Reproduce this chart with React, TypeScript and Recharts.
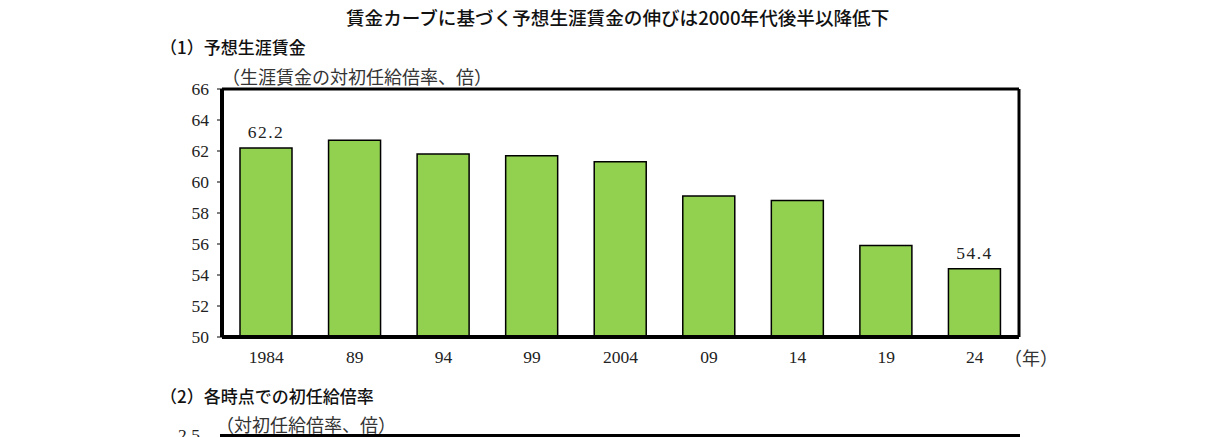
import React from "react"
import { BarChart, Bar, XAxis, YAxis, LabelList } from "recharts"

const years = ["1984", "89", "94", "99", "2004", "09", "14", "19", "24"]
const lifetimeRatio = [62.2, 62.7, 61.8, 61.7, 61.3, 59.1, 58.8, 55.9, 54.4]
const labeledYears = ["1984", "24"]
const yTicks = [50, 52, 54, 56, 58, 60, 62, 64, 66]

const data = years.map((year, i) => ({
  year,
  value: lifetimeRatio[i],
  label: labeledYears.includes(year) ? lifetimeRatio[i].toFixed(1) : undefined,
}))

const serif = '"Liberation Serif", "DejaVu Serif", serif'
const gothic = '"Noto Sans CJK JP", "Noto Sans", sans-serif'

const text = (left: number, top: number, size: number, extra: React.CSSProperties = {}) => ({
  position: "absolute" as const,
  left,
  top,
  fontSize: size,
  lineHeight: 1,
  whiteSpace: "nowrap" as const,
  color: "#111",
  ...extra,
})

export default function App() {
  return (
    <div style={{ position: "absolute", left: 0, top: 0, width: 1213, height: 437, overflow: "hidden", background: "#fff" }}>
      <div style={text(346, 8, 18.6, { fontFamily: gothic, fontWeight: 500 })}>
        賃金カーブに基づく予想生涯賃金の伸びは2000年代後半以降低下
      </div>
      <div style={text(160, 38, 17, { fontFamily: gothic, fontWeight: 500 })}>（1）予想生涯賃金</div>
      <div style={text(222, 67, 18, { fontFamily: gothic, color: "#333" })}>（生涯賃金の対初任給倍率、倍）</div>

      <div style={{ position: "absolute", left: 0, top: 0 }}>
        <BarChart
          width={1213}
          height={437}
          data={data}
          margin={{ top: 88, right: 193, bottom: 70, left: 162 }}
        >
          <XAxis
            dataKey="year"
            height={30}
            interval={0}
            tickLine={false}
            axisLine={{ stroke: "#000", strokeWidth: 4 }}
            tick={{ fill: "#222", fontSize: 17.5, fontFamily: serif }}
            tickMargin={8}
          />
          <XAxis
            xAxisId="top"
            orientation="top"
            dataKey="year"
            height={1}
            tick={false}
            tickLine={false}
            axisLine={{ stroke: "#000", strokeWidth: 3 }}
          />
          <YAxis
            domain={[50, 66]}
            ticks={yTicks}
            interval={0}
            width={60}
            tickSize={5}
            tickMargin={8}
            tickLine={{ stroke: "#000" }}
            axisLine={{ stroke: "#000", strokeWidth: 4 }}
            tick={{ fill: "#222", fontSize: 17.5, fontFamily: serif }}
          />
          <YAxis
            yAxisId="right"
            orientation="right"
            domain={[50, 66]}
            width={1}
            tick={false}
            tickLine={false}
            axisLine={{ stroke: "#000", strokeWidth: 3 }}
          />
          <Bar
            dataKey="value"
            fill="#92D050"
            stroke="#000"
            strokeWidth={1.5}
            barSize={52}
            isAnimationActive={false}
          >
            <LabelList
              dataKey="label"
              position="top"
              offset={10}
              fill="#222"
              fontSize={17.5}
              fontFamily={serif}
              letterSpacing={1.5}
            />
          </Bar>
        </BarChart>
      </div>

      <div style={text(1004, 348, 18, { fontFamily: gothic, color: "#333" })}>（年）</div>

      <div style={text(160, 387, 17, { fontFamily: gothic, fontWeight: 500 })}>（2）各時点での初任給倍率</div>
      <div style={text(216, 415, 18, { fontFamily: gothic, color: "#333" })}>（対初任給倍率、倍）</div>
      <div style={text(178, 427, 17.5, { fontFamily: serif, color: "#222" })}>2.5</div>
      <div style={{ position: "absolute", left: 220, top: 434, width: 800, height: 4, background: "#000" }} />
    </div>
  )
}
